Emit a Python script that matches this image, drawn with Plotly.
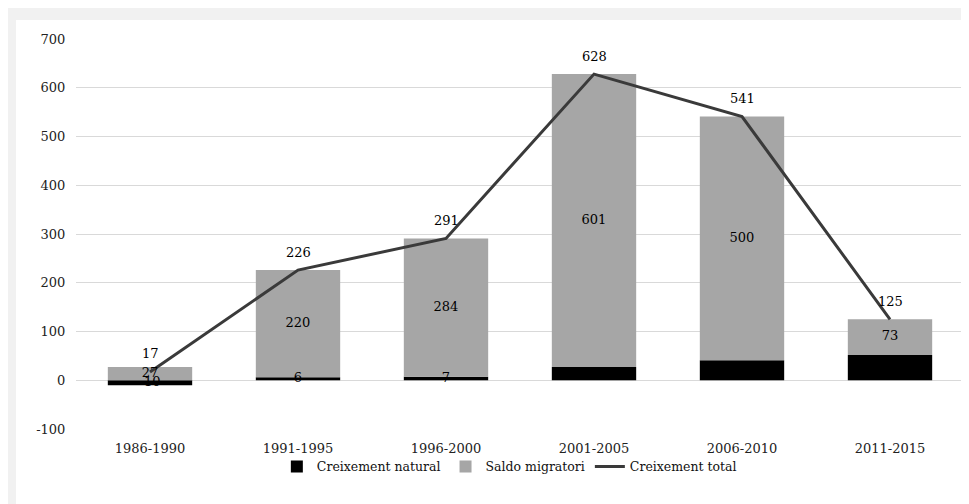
import plotly.graph_objects as go

periods = ["1986-1990", "1991-1995", "1996-2000", "2001-2005", "2006-2010", "2011-2015"]
natural = [-10, 6, 7, 27, 41, 52]
migratori = [27, 220, 284, 601, 500, 73]
total = [17, 226, 291, 628, 541, 125]
y_ticks = [-100, 0, 100, 200, 300, 400, 500, 600, 700]
y_tick_labels = ["-100", "0", "100", "200", "300", "400", "500", "600", "700"]

FONT = "DejaVu Serif"

fig = go.Figure()
fig.add_trace(go.Bar(x=periods, y=natural, name="Creixement natural",
                     marker=dict(color="#000000", line=dict(width=0))))
fig.add_trace(go.Bar(x=periods, y=migratori, name="Saldo migratori",
                     marker=dict(color="#a6a6a6", line=dict(width=0))))
fig.add_trace(go.Scatter(x=periods, y=total, name="Creixement total", mode="lines",
                         line=dict(color="#3a3a3a", width=3)))

# bar value labels (centered in each segment)
nat_mid = [v / 2 for v in natural]
mig_base = [max(n, 0) for n in natural]
mig_mid = [b + m / 2 for b, m in zip(mig_base, migratori)]
fig.add_trace(go.Scatter(x=periods, y=nat_mid, mode="text", text=[str(v) for v in natural],
                         textfont=dict(family=FONT, size=13, color="#000000"),
                         showlegend=False, hoverinfo="skip"))
fig.add_trace(go.Scatter(x=periods, y=mig_mid, mode="text", text=[str(v) for v in migratori],
                         textfont=dict(family=FONT, size=13, color="#000000"),
                         showlegend=False, hoverinfo="skip"))
for p, t in zip(periods, total):
    fig.add_annotation(x=p, y=t, text=str(t), showarrow=False, yshift=18,
                       font=dict(family=FONT, size=13, color="#000000"))

W, H = 969, 504
ml, mt = 68, 31
pw, ph = 888, 390
mr = W - ml - pw
mb = H - mt - ph
# white card on a light grey page
fig.add_shape(type="rect", xref="paper", yref="paper", layer="below",
              x0=(8 - ml) / pw, x1=(W + 10 - ml) / pw,
              y0=(mt + ph - (H + 10)) / ph, y1=(mt + ph - 12) / ph,
              fillcolor="white", line=dict(width=0))

fig.update_layout(
    width=W, height=H,
    margin=dict(l=ml, r=mr, t=mt, b=mb, autoexpand=False),
    barmode="relative", bargap=0.43,
    paper_bgcolor="#f1f1f1", plot_bgcolor="rgba(0,0,0,0)",
    font=dict(family=FONT, size=13, color="#222222"),
    showlegend=True,
    legend=dict(orientation="h", x=0.488, xanchor="center", y=-0.097, yanchor="middle",
                font=dict(family=FONT, size=12.5, color="#111111"), itemwidth=30,
                bgcolor="rgba(0,0,0,0)", traceorder="normal"),
    xaxis=dict(showgrid=False, showline=False, ticks="outside", ticklen=7,
               tickcolor="rgba(0,0,0,0)", tickfont=dict(size=13)),
    yaxis=dict(range=[-100, 700], tickvals=y_ticks, ticktext=y_tick_labels,
               gridcolor="#d9d9d9", gridwidth=1,
               zeroline=True, zerolinecolor="#d9d9d9", zerolinewidth=1,
               showline=False, ticks="outside", ticklen=7, tickcolor="rgba(0,0,0,0)",
               tickfont=dict(size=13)),
)

fig.write_html("out.html")
